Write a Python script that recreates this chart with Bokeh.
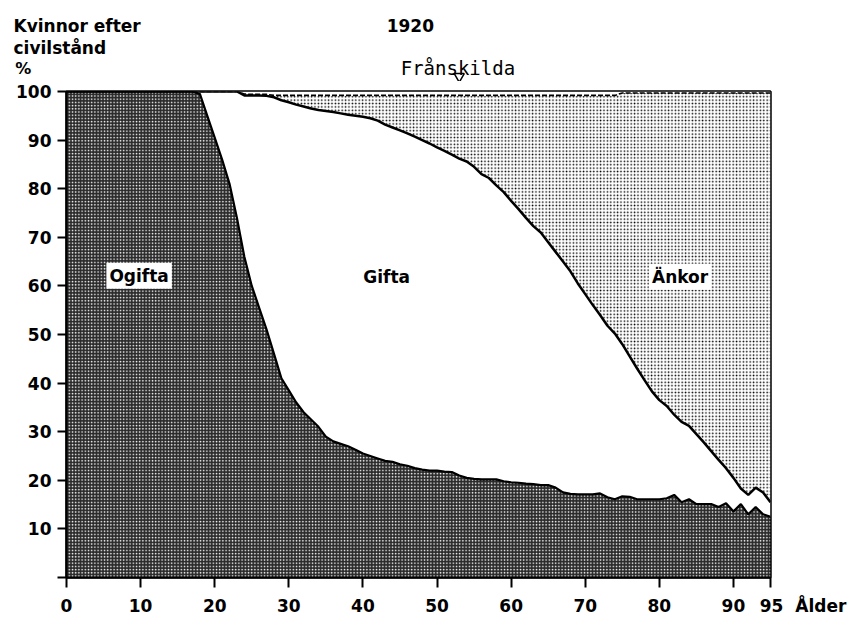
from bokeh.plotting import figure
from bokeh.models import ColumnDataSource, FixedTicker, Label, Range1d
from bokeh.layouts import column
from bokeh.transform import stack
from bokeh.embed import file_html
from bokeh.resources import INLINE

# Age (years)
ages = [0, 17, 18, 19, 20, 21, 22, 23, 24, 25, 26, 27, 28, 29, 30, 31, 32, 33, 34,
        35, 36, 37, 38, 39, 40, 41, 42, 43, 44, 45, 46, 47, 48, 49, 50, 51, 52, 53,
        54, 55, 56, 57, 58, 59, 60, 61, 62, 63, 64, 65, 66, 67, 68, 69, 70, 71, 72,
        73, 74, 75, 76, 77, 78, 79, 80, 81, 82, 83, 84, 85, 86, 87, 88, 89, 90, 91,
        92, 93, 94, 95]

# Women by marital status, percent (1920)
ogifta = [100, 100, 99.5, 95, 90.5, 86, 81, 74, 66, 60, 55.5, 51, 46, 41, 38.5, 36, 34,
          32.5, 31, 29, 28, 27.5, 27, 26.3, 25.5, 25, 24.5, 24, 23.8, 23.3, 23, 22.5,
          22.2, 22, 22, 21.8, 21.7, 21, 20.5, 20.3, 20.2, 20.2, 20.2, 19.8, 19.6, 19.5,
          19.3, 19.2, 19.0, 19.0, 18.5, 17.5, 17.2, 17.1, 17.1, 17.1, 17.3, 16.5, 16.1,
          16.7, 16.6, 16.1, 16.1, 16.1, 16.1, 16.3, 17.0, 15.5, 16.1, 15.1, 15.1, 15.1,
          14.5, 15.3, 13.6, 15.1, 13.0, 14.5, 13.0, 12.5]
gifta = [0, 0, 0.5, 5, 9.5, 14, 19, 26, 33.2, 39.2, 43.7, 48.1, 52.8, 57.2, 59.3, 61.3,
         62.9, 64.0, 65.2, 67.0, 67.8, 68.0, 68.2, 68.7, 69.3, 69.5, 69.5, 69.2, 68.8,
         68.7, 68.4, 68.2, 67.8, 67.3, 66.5, 66.0, 65.3, 65.2, 65.1, 64.2, 62.8, 62.0,
         60.5, 59.5, 57.9, 56.3, 54.7, 53.1, 52.0, 50.0, 48.5, 47.5, 45.8, 43.4, 41.2,
         39.0, 36.7, 35.3, 34.1, 31.3, 28.9, 26.9, 24.5, 22.2, 20.4, 19.0, 16.5, 16.5,
         15.1, 14.4, 12.7, 10.9, 9.7, 7.2, 6.9, 3.2, 4.0, 4.0, 4.5, 3.0]
ankor = [0, 0, 0, 0, 0, 0, 0, 0, 0.3, 0.2, 0.2, 0.3, 0.4, 1.0, 1.4, 1.9, 2.3, 2.7, 3.0,
         3.2, 3.4, 3.7, 4.0, 4.2, 4.4, 4.7, 5.2, 6.0, 6.6, 7.2, 7.8, 8.5, 9.2, 9.9, 10.7,
         11.4, 12.2, 13.0, 13.6, 14.7, 16.2, 17.0, 18.5, 19.9, 21.7, 23.4, 25.2, 26.9,
         28.2, 30.2, 32.2, 34.2, 36.2, 38.7, 40.9, 43.1, 45.2, 47.4, 49.0, 51.7, 54.2,
         56.7, 59.1, 61.4, 63.2, 64.4, 66.2, 67.7, 68.5, 70.2, 71.9, 73.7, 75.5, 77.2,
         79.2, 81.4, 82.7, 81.2, 82.2, 84.2]
franskilda = [0, 0, 0, 0, 0, 0, 0, 0, 0.5, 0.6, 0.6, 0.6, 0.8, 0.8, 0.8, 0.8, 0.8, 0.8,
              0.8, 0.8, 0.8, 0.8, 0.8, 0.8, 0.8, 0.8, 0.8, 0.8, 0.8, 0.8, 0.8, 0.8, 0.8,
              0.8, 0.8, 0.8, 0.8, 0.8, 0.8, 0.8, 0.8, 0.8, 0.8, 0.8, 0.8, 0.8, 0.8, 0.8,
              0.8, 0.8, 0.8, 0.8, 0.8, 0.8, 0.8, 0.8, 0.8, 0.8, 0.8, 0.3, 0.3, 0.3, 0.3,
              0.3, 0.3, 0.3, 0.3, 0.3, 0.3, 0.3, 0.3, 0.3, 0.3, 0.3, 0.3, 0.3, 0.3, 0.3,
              0.3, 0.3]

x_ticks = [0, 10, 20, 30, 40, 50, 60, 70, 80, 90, 95]
y_ticks = [0, 10, 20, 30, 40, 50, 60, 70, 80, 90, 100]
x_axis_title = "Ålder"
franskilda_age = [53]

src = ColumnDataSource(dict(age=ages, ogifta=ogifta, gifta=gifta, ankor=ankor,
                            franskilda=franskilda))

FONT = "DejaVu Sans"
MONO = "DejaVu Sans Mono"
W = 850
LEFT = 66
FRAME_W = 704
TOP_H = 81
MAIN_H = 537
PX_PER_YEAR = FRAME_W / 95.0

# ---------------- main chart ----------------
p = figure(width=W, height=MAIN_H, x_range=Range1d(0, 95), y_range=Range1d(0, 100),
           output_backend="svg", toolbar_location=None,
           min_border_left=LEFT, min_border_right=W - LEFT - FRAME_W,
           min_border_top=10, min_border_bottom=36)
p.frame_align = False
p.background_fill_color = "white"
p.border_fill_color = "white"
p.outline_line_color = "black"
p.outline_line_width = 2.5
p.xgrid.visible = False
p.ygrid.visible = False

p.varea(x="age", y1=0, y2=stack("ogifta"), source=src,
        fill_color="#2a2a2a", hatch_pattern="dot", hatch_color="white",
        hatch_scale=3.2, hatch_weight=1.5)
p.varea(x="age", y1=stack("ogifta"), y2=stack("ogifta", "gifta"), source=src,
        fill_color="white")
p.varea(x="age", y1=stack("ogifta", "gifta"), y2=stack("ogifta", "gifta", "ankor"),
        source=src, fill_color="white", hatch_pattern="dot", hatch_color="black",
        hatch_scale=3.4, hatch_weight=2.4)
p.varea(x="age", y1=stack("ogifta", "gifta", "ankor"),
        y2=stack("ogifta", "gifta", "ankor", "franskilda"), source=src,
        fill_color="white")

p.line(x="age", y=stack("ogifta"), source=src, line_color="black", line_width=2.2)
p.line(x="age", y=stack("ogifta", "gifta"), source=src, line_color="black",
       line_width=2.5)
p.line(x="age", y=stack("ogifta", "gifta", "ankor"), source=src, line_color="black",
       line_width=1.6, line_dash="5 2")

for ax in (p.xaxis[0], p.yaxis[0]):
    ax.axis_line_color = "black"
    ax.axis_line_width = 2
    ax.major_tick_line_color = "black"
    ax.major_tick_line_width = 2
    ax.major_tick_in = 0
    ax.minor_tick_line_color = None
    ax.major_label_text_font = FONT
    ax.major_label_text_font_style = "bold"
    ax.major_label_text_font_size = "17px"
    ax.major_label_text_color = "black"

p.xaxis.ticker = FixedTicker(ticks=x_ticks)
p.xaxis.major_tick_out = 10
p.xaxis.major_label_standoff = 8
# last tick carries the axis title to its right; left padding keeps "95" centred
p.xaxis.major_label_overrides = {95: "\u00a0" * 11 + "95\u00a0\u00a0" + x_axis_title}
p.yaxis.ticker = FixedTicker(ticks=y_ticks)
p.yaxis.major_tick_out = 9
p.yaxis.major_label_standoff = 6
p.yaxis.major_label_overrides = {0: ""}


def lab(fig, x, y, text, size="16px", align="left", baseline="alphabetic", bg=None,
        style="bold", font=FONT):
    kw = dict(x=x, y=y, text=text, text_font=font, text_font_size=size,
              text_font_style=style, text_align=align, text_baseline=baseline,
              text_color="black")
    if bg:
        kw.update(background_fill_color=bg, padding=3)
    fig.add_layout(Label(**kw))


lab(p, 9.8, 62.1, "Ogifta", size="17px", align="center", baseline="middle", bg="white")
lab(p, 43.2, 61.9, "Gifta", size="17px", align="center", baseline="middle")
lab(p, 82.8, 61.9, "Änkor", size="17px", align="center", baseline="middle", bg="white")

# ---------------- header strip (same age scale as the chart) ----------------
x0 = -LEFT / PX_PER_YEAR
x1 = (W - LEFT) / PX_PER_YEAR
top = figure(width=W, height=TOP_H, x_range=Range1d(x0, x1), y_range=Range1d(0, TOP_H),
             output_backend="svg", toolbar_location=None, min_border=0,
             x_axis_location=None, y_axis_location=None)
top.frame_align = False
top.outline_line_color = None
top.xgrid.visible = False
top.ygrid.visible = False
top.border_fill_color = "white"
top.background_fill_color = "white"

lab(top, -7.15, 56, "Kvinnor efter", size="17px")
lab(top, -7.15, 34, "civilstånd", size="17px")
lab(top, -6.9, 13, "%")
lab(top, 46.4, 56, "1920", size="17px", align="center")
lab(top, 45.1, 14, "Frånskilda", size="19px", style="normal", font=MONO)
# pointer to the thin "Frånskilda" band at the top of the chart
top.scatter(x=franskilda_age, y=[5], marker="inverted_triangle", size=10,
            fill_color="white", line_color="black", line_width=1.5)

layout = column(top, p, spacing=0)
open("out.html", "w").write(file_html(layout, INLINE))
